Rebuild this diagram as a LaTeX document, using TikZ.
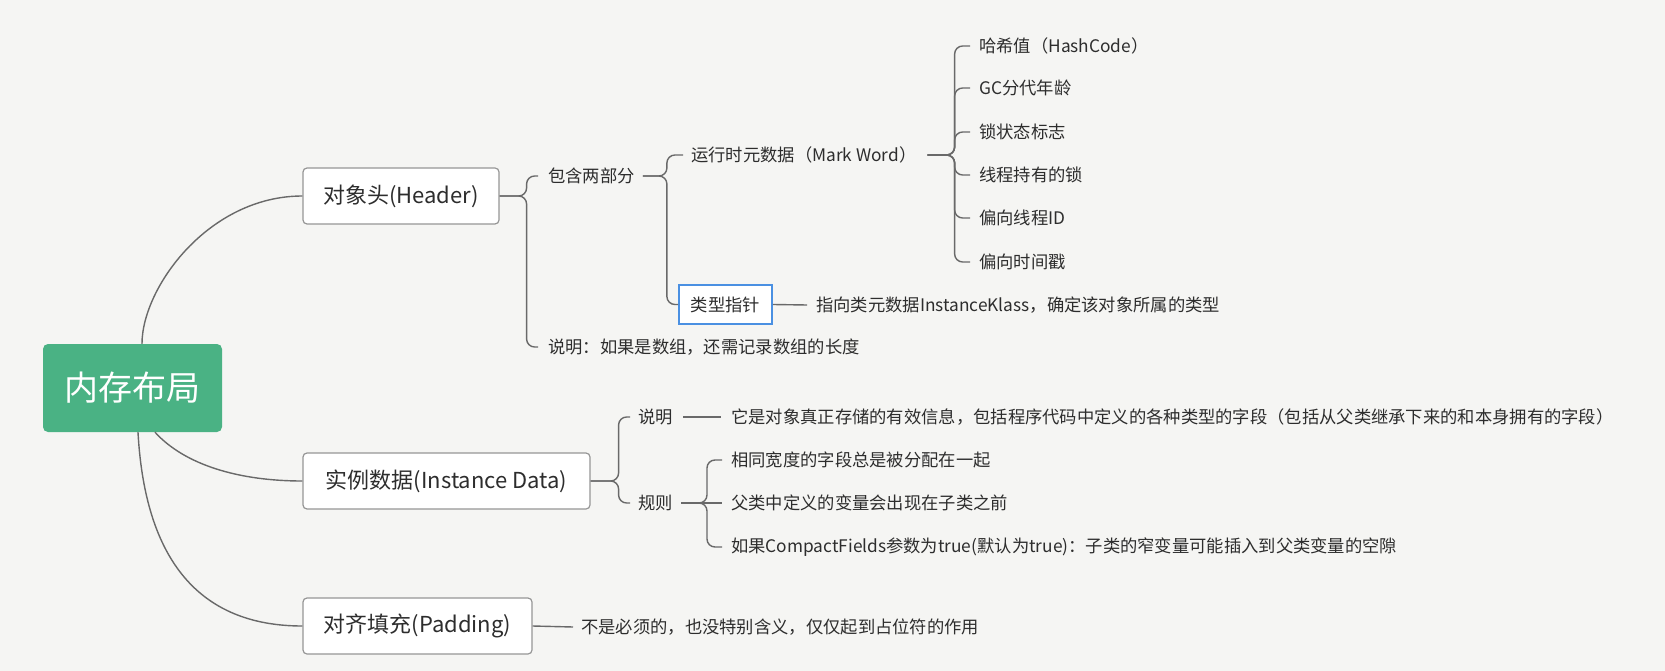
\documentclass[tikz,border=0pt]{standalone}
\usepackage{fontspec}
\setmainfont{Noto Sans CJK SC}
\usetikzlibrary{calc}
\definecolor{bg}{RGB}{245,245,243}
\definecolor{rootgreen}{RGB}{74,178,132}
\definecolor{boxgray}{RGB}{150,150,150}
\definecolor{linegray}{RGB}{105,105,105}
\definecolor{txt}{RGB}{45,45,45}
\definecolor{selblue}{RGB}{74,144,226}
\begin{document}
\begin{tikzpicture}[x=1pt,y=-1pt,
  rootbox/.style={fill=rootgreen, rounded corners=5pt, text=white, inner sep=0pt,
    minimum width=179pt, minimum height=88pt, font=\fontsize{34}{40}\selectfont},
  bigbox/.style={draw=boxgray, line width=1.2pt, fill=white, rounded corners=4pt, text=txt,
    inner sep=0pt, minimum height=56pt, font=\fontsize{22}{26}\selectfont},
  leaf/.style={anchor=west, inner sep=0pt, text=txt, font=\fontsize{17.3}{20}\selectfont},
  selbox/.style={draw=selblue, line width=1.8pt, fill=white, text=txt, inner sep=0pt,
    minimum width=93pt, minimum height=39pt, font=\fontsize{17.3}{20}\selectfont},
  conn/.style={draw=linegray, line width=1.4pt},
  brk/.style={conn, rounded corners=8pt}]
\fill[bg] (0,0) rectangle (1665,671);
\useasboundingbox (0,0) rectangle (1665,671);

% main nodes
\node[rootbox] (root) at (132.5,388) {内存布局};
\node[bigbox, minimum width=196pt] (hdr) at (401,196) {对象头(Header)};
\node[bigbox, minimum width=287pt] (inst) at (446.5,481) {实例数据(Instance Data)};
\node[bigbox, minimum width=229pt] (pad) at (417.5,626) {对齐填充(Padding)};

% header subtree
\node[leaf] (c2) at (548,176) {包含两部分};
\node[leaf] (hnote) at (548,347) {说明：如果是数组，还需记录数组的长度};
\node[leaf] (mw) at (691,155) {运行时元数据（Mark Word）};
\node[selbox] (tp) at (725.5,304.5) {类型指针};
\node[leaf] (tpd) at (816,305) {指向类元数据InstanceKlass，确定该对象所属的类型};
\node[leaf] (m1) at (979,46) {哈希值（HashCode）};
\node[leaf] (m2) at (979,88) {GC分代年龄};
\node[leaf] (m3) at (979,132) {锁状态标志};
\node[leaf] (m4) at (979,175) {线程持有的锁};
\node[leaf] (m5) at (979,218) {偏向线程ID};
\node[leaf] (m6) at (979,262) {偏向时间戳};

% instance subtree
\node[leaf] (is) at (638,417) {说明};
\node[leaf] (isd) at (731,417) {它是对象真正存储的有效信息，包括程序代码中定义的各种类型的字段（包括从父类继承下来的和本身拥有的字段）};
\node[leaf] (ir) at (638,503) {规则};
\node[leaf] (r1) at (731,460) {相同宽度的字段总是被分配在一起};
\node[leaf] (r2) at (731,503) {父类中定义的变量会出现在子类之前};
\node[leaf] (r3) at (731,547) {如果CompactFields参数为true(默认为true)：子类的窄变量可能插入到父类变量的空隙};

% padding subtree
\node[leaf] (pd) at (581,627) {不是必须的，也没特别含义，仅仅起到占位符的作用};

% root connectors
\draw[conn] ($(root.north)+(9.5,0)$) .. controls ($(root.north)+(9.5,-56)$) and ($(hdr.west)+(-94,0)$) .. (hdr.west);
\draw[conn] ($(root.south)+(22.5,0)$) .. controls ($(root.south)+(52.5,33)$) and ($(inst.west)+(-63,0)$) .. (inst.west);
\draw[conn] ($(root.south)+(5.5,0)$) .. controls ($(root.south)+(12.5,128)$) and ($(pad.west)+(-103,0)$) .. (pad.west);

% header brackets
\draw[brk] (hdr.east) -- ++(27,0) |- ([xshift=-10pt]c2.west);
\draw[brk] (hdr.east) -- ++(27,0) |- ([xshift=-10pt]hnote.west);
\draw[brk] ([xshift=8pt]c2.east) -- ++(24,0) |- ([xshift=-8pt]mw.west);
\draw[brk] ([xshift=8pt]c2.east) -- ++(24,0) |- (tp.west);
\draw[conn] (tp.east) -- ([xshift=-9pt]tpd.west);
\foreach \m in {m1,m2,m3,m4,m5,m6}
  \draw[brk] ([xshift=11pt]mw.east) -- ++(27,0) |- ([xshift=-9pt]\m.west);

% instance brackets
\draw[brk] (inst.east) -- ++(28,0) |- ([xshift=-8pt]is.west);
\draw[brk] (inst.east) -- ++(28,0) |- ([xshift=-8pt]ir.west);
\draw[conn] ([xshift=10pt]is.east) -- ([xshift=-10pt]isd.west);
\draw[brk] ([xshift=8pt]ir.east) -- ++(26,0) |- ([xshift=-9pt]r1.west);
\draw[conn] ([xshift=8pt]ir.east) -- ([xshift=-9pt]r2.west);
\draw[brk] ([xshift=8pt]ir.east) -- ++(26,0) |- ([xshift=-9pt]r3.west);

% padding connector
\draw[conn] (pad.east) -- ([xshift=-8pt]pd.west);
\end{tikzpicture}
\end{document}
